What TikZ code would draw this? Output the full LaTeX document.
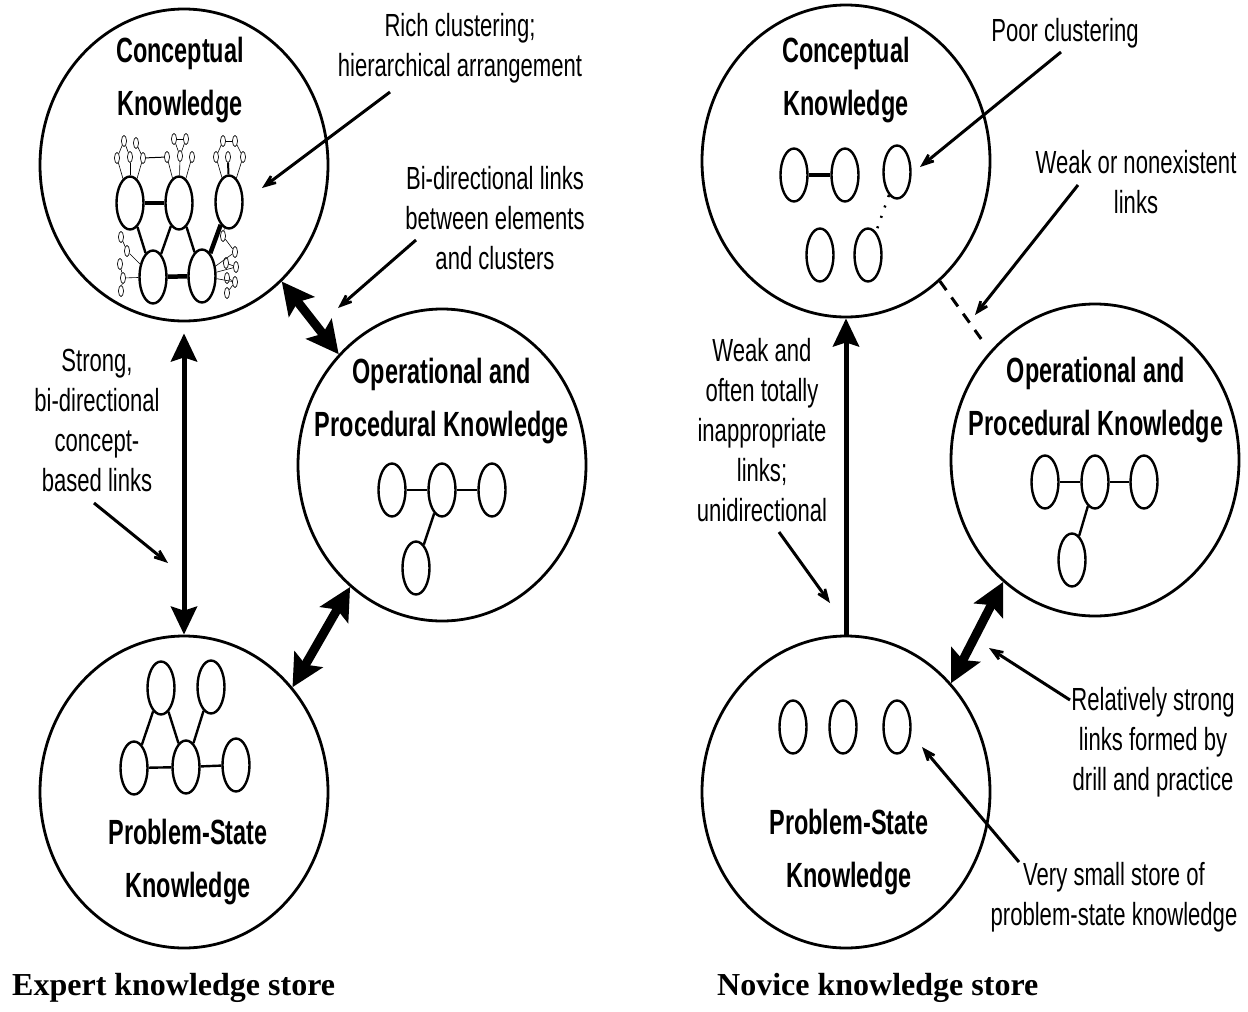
\documentclass[tikz,border=0pt]{standalone}
\usepackage{fontspec}
\setmainfont{Liberation Serif}
\newfontfamily\notefont[FakeStretch=0.69]{Liberation Sans}
\newfontfamily\headfont[FakeStretch=0.67]{Liberation Sans}
\usetikzlibrary{shapes.geometric,arrows.meta,calc}

\tikzset{
  store/.style={ellipse, draw, line width=2.8pt, minimum width=288pt, minimum height=312pt, inner sep=0pt},
  elem/.style={ellipse, draw, line width=2.4pt, minimum width=27pt, minimum height=53pt, inner sep=0pt},
  subelem/.style={ellipse, draw, line width=0.7pt, minimum width=5pt, minimum height=11pt, inner sep=0pt},
  link/.style={line width=2.4pt},
  stronglink/.style={line width=4.5pt},
  thinlink/.style={line width=0.6pt},
  title/.style={font=\headfont\bfseries\fontsize{35}{53}\selectfont, align=center, inner sep=0pt},
  note/.style={font=\notefont\fontsize{32}{40}\selectfont, align=center, inner sep=0pt},
  caption/.style={font=\bfseries\fontsize{32}{36}\selectfont, anchor=west, inner sep=0pt},
  pointer/.style={line width=3pt, -{Stealth[length=26pt,width=20pt,inset=16pt]}},
  bothway/.style={line width=9pt, {Stealth[length=32pt,width=32pt,inset=6pt]}-{Stealth[length=32pt,width=32pt,inset=6pt]}},
  conceptlink/.style={line width=5pt, {Stealth[length=28pt,width=26pt,inset=4pt]}-{Stealth[length=28pt,width=26pt,inset=4pt]}},
  upward/.style={line width=5pt, -{Stealth[length=28pt,width=26pt,inset=4pt]}},
}

\begin{document}
\begin{tikzpicture}[x=1pt,y=-1pt]
\useasboundingbox (0,0) rectangle (1248,1012);

% ---- expert store ----
\node[store] (lc) at (184,165) {};
\node[store] (lo) at (442,465) {};
\node[store] (lp) at (184,792) {};

\node[title] (lctitle) at (180,80) {Conceptual\\Knowledge};
\node[title] (lotitle) at (442,401) {Operational and\\Procedural Knowledge};
\node[title] (lptitle) at (188,862) {Problem-State\\Knowledge};

% conceptual clusters
\node[elem] (k1) at (130,203) {};
\node[elem] (k2) at (179,203) {};
\node[elem] (k3) at (229,202) {};
\node[elem] (k4) at (153,277) {};
\node[elem] (k5) at (202,276) {};
\draw[stronglink] (k1) -- (k2);
\draw[stronglink] (k4) -- (k5);
\draw[link] (k1) -- (k4);
\draw[link] (k2) -- (k4);
\draw[link] (k2) -- (k5);
\draw[stronglink] (k3) -- (k5);

\foreach \n/\x/\y in {a1/124/141, a2/136/143, a3/117/158, a4/130/157, a5/143/158,
                      b1/174/139, b2/186/139, b3/167/157, b4/180/156, b5/192/157,
                      c1/223/141, c2/235/141, c3/216/157, c4/228/157, c5/243/157,
                      d1/121/237, d2/127/251, d3/120/264, d4/123/278, d5/121/291,
                      e1/223/236, e2/235/252, e3/226/263, e4/236/267, e5/227/278,
                      e6/235/282, e7/227/293}
  \node[subelem] (\n) at (\x,\y) {};

\foreach \u/\v in {a1/a3, a1/a4, a2/a5, a3/k1, a4/k1, a5/k1, b1/b2, b1/b4, b2/b4,
                   b3/k2, b4/k2, b5/k2, c1/c2, c1/c3, c2/c5, c3/k3, c5/k3,
                   d1/d2, d2/k4, d3/d4, d4/k4, d5/d4, e1/e2, e2/k5, e3/e4,
                   e4/k5, e5/e6, e6/k5, e7/e6, e1/k3}
  \draw[thinlink] (\u) -- (\v);
\draw[line width=1pt] (a5) -- (b3);
\draw[line width=2pt] (c4) -- (k3);

% operational cluster
\node[elem] (o1) at (392,490) {};
\node[elem] (o2) at (442,490) {};
\node[elem] (o3) at (492,490) {};
\node[elem] (o4) at (416,568) {};
\draw[link] (o1) -- (o2);
\draw[link] (o2) -- (o3);
\draw[link] (o2) -- (o4);

% problem-state cluster
\node[elem] (p1) at (161,688) {};
\node[elem] (p2) at (211,687) {};
\node[elem] (p3) at (134,768) {};
\node[elem] (p4) at (186,767) {};
\node[elem] (p5) at (236,765) {};
\draw[link] (p1) -- (p3);
\draw[link] (p1) -- (p4);
\draw[link] (p2) -- (p4);
\draw[link] (p3) -- (p4);
\draw[link] (p4) -- (p5);

% links between stores
\draw[bothway] (lc.310) -- (lo.133);
\draw[bothway] (lo.233) -- (lp.44);
\draw[conceptlink, shorten <=11pt] (lc.south) -- (lp.north);

% notes
\node[note] (rich) at (460,48) {Rich clustering;\\hierarchical arrangement};
\node[note] (bidir) at (495,218) {Bi-directional links\\between elements\\and clusters};
\node[note] (strong) at (97,420) {Strong,\\bi-directional\\concept-\\based links};
\coordinate (richfoot) at (390,92);
\coordinate (richtip) at (262,188);
\coordinate (bidirfoot) at (416,240);
\coordinate (bidirtip) at (338,308);
\coordinate (strongfoot) at (94,503);
\coordinate (strongtip) at (168,563);
\draw[pointer] (richfoot) -- (richtip);
\draw[pointer] (bidirfoot) -- (bidirtip);
\draw[pointer] (strongfoot) -- (strongtip);

\node[caption] (expert) at (12,988) {Expert knowledge store};

% ---- novice store ----
\node[store] (rc) at (846,161) {};
\node[store] (ro) at (1095,460) {};
\node[store] (rp) at (846,792) {};

\node[title] (rctitle) at (846,80) {Conceptual\\Knowledge};
\node[title] (rotitle) at (1096,400) {Operational and\\Procedural Knowledge};
\node[title] (rptitle) at (849,852) {Problem-State\\Knowledge};

\node[elem] (q1) at (794,175) {};
\node[elem] (q2) at (845,175) {};
\node[elem] (q3) at (897,172) {};
\node[elem] (q4) at (820,255) {};
\node[elem] (q5) at (868,255) {};
\draw[stronglink] (q1) -- (q2);
\draw[line width=2.5pt, dash pattern=on 2pt off 9pt] (q3) -- (q5);

\node[elem] (r1) at (1045,482) {};
\node[elem] (r2) at (1095,482) {};
\node[elem] (r3) at (1144,482) {};
\node[elem] (r4) at (1072,560) {};
\draw[link] (r1) -- (r2);
\draw[link] (r2) -- (r3);
\draw[link] (r2) -- (r4);

\node[elem] (s1) at (793,727) {};
\node[elem] (s2) at (843,727) {};
\node[elem] (s3) at (897,727) {};

\draw[line width=3pt, dash pattern=on 11pt off 9pt, shorten >=11pt] (rc.-52) -- (ro.134);
\draw[upward] (rp.north) -- (rc.south);
\draw[bothway] (ro.233) -- (rp.46);

\node[note] (poor) at (1065,33) {Poor clustering};
\node[note] (weak) at (1136,182) {Weak or nonexistent\\links};
\node[note] (weakand) at (762,430) {Weak and\\often totally\\inappropriate\\links;\\unidirectional};
\node[note] (relstrong) at (1153,742) {Relatively strong\\links formed by\\drill and practice};
\node[note] (small) at (1114,897) {Very small store of\\problem-state knowledge};
\coordinate (poorfoot) at (1061,52);
\coordinate (poortip) at (920,167);
\coordinate (weakfoot) at (1078,185);
\coordinate (weaktip) at (975,315);
\coordinate (weakandfoot) at (779,532);
\coordinate (weakandtip) at (830,603);
\coordinate (relfoot) at (1070,700);
\coordinate (reltip) at (989,648);
\coordinate (smallfoot) at (1019,862);
\coordinate (smalltip) at (922,747);
\draw[pointer] (poorfoot) -- (poortip);
\draw[pointer] (weakfoot) -- (weaktip);
\draw[pointer] (weakandfoot) -- (weakandtip);
\draw[pointer] (relfoot) -- (reltip);
\draw[pointer] (smallfoot) -- (smalltip);

\node[caption] (novice) at (717,988) {Novice knowledge store};
\end{tikzpicture}
\end{document}
